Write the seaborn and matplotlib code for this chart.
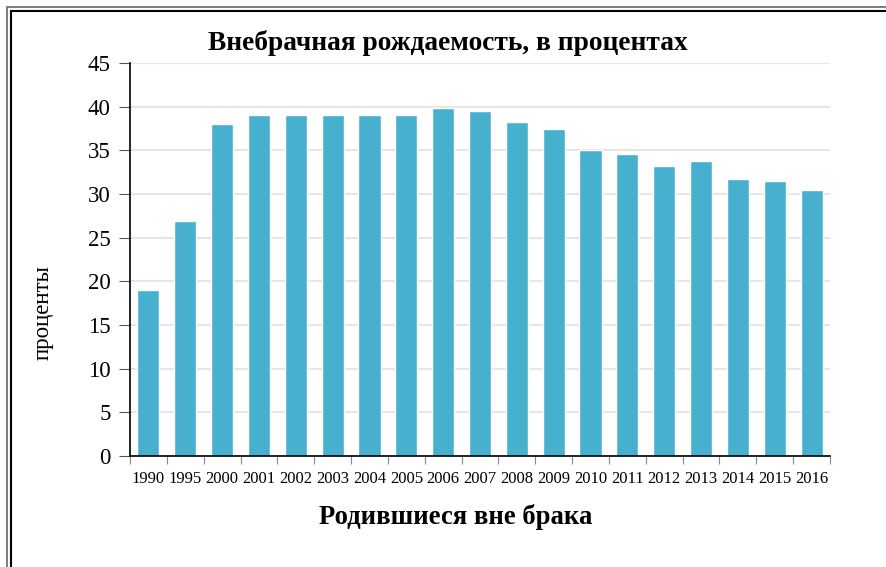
import numpy as np
import pandas as pd
import seaborn as sns
import matplotlib.pyplot as plt
from matplotlib.patches import Rectangle

years = ["1990", "1995", "2000", "2001", "2002", "2003", "2004", "2005", "2006",
         "2007", "2008", "2009", "2010", "2011", "2012", "2013", "2014", "2015", "2016"]
percents = [19.0, 26.95, 38.0, 39.1, 39.1, 39.1, 39.1, 39.1, 39.8,
            39.5, 38.3, 37.4, 35.0, 34.6, 33.2, 33.8, 31.7, 31.5, 30.5]

bar_color = "#47b0cf"

sns.set_style("white")
plt.rcParams["font.family"] = ["Liberation Serif", "DejaVu Serif"]
plt.rcParams["text.color"] = "black"
plt.rcParams["xtick.color"] = "black"
plt.rcParams["ytick.color"] = "black"

df = pd.DataFrame({"year": years, "pct": percents})

fig = plt.figure(figsize=(8.86, 5.67), dpi=100)
ax = fig.add_axes([130 / 886, 1 - 456 / 567, 700 / 886, 393 / 567])

sns.barplot(data=df, x="year", y="pct", color=bar_color, saturation=1,
            width=0.6, ax=ax, zorder=3)

ax.set_ylim(0, 45)
ax.set_xlim(-0.5, len(years) - 0.5)
ax.set_yticks(np.arange(0, 46, 5))
ax.yaxis.grid(True, color="#e6e6e6", linewidth=1.5, zorder=0)
ax.xaxis.grid(False)

for s in ["top", "right"]:
    ax.spines[s].set_visible(False)
for s in ["left", "bottom"]:
    ax.spines[s].set_color("black")
    ax.spines[s].set_linewidth(1.2)
    ax.spines[s].set_zorder(4)

ax.tick_params(axis="y", labelsize=16.5, length=8, width=0.8, color="#555555",
               labelcolor="black", direction="out", left=True, pad=6)
ax.tick_params(axis="x", which="major", labelsize=12, length=0, pad=11,
               labelcolor="black")
ax.set_xticks(np.arange(-0.5, len(years), 1), minor=True)
ax.tick_params(axis="x", which="minor", length=6, width=0.8, color="#888888",
               direction="out", bottom=True)

ax.set_xlabel("")
ax.set_ylabel("")

fig.text(448 / 886, 1 - 43 / 567, "Внебрачная рождаемость, в процентах",
         ha="center", va="center", fontsize=19.7, fontweight="bold", color="black")
fig.text(456 / 886, 1 - 517 / 567, "Родившиеся вне брака",
         ha="center", va="center", fontsize=19.2, fontweight="bold", color="black")
fig.text(43 / 886, 1 - 313 / 567, "проценты", rotation=90,
         ha="center", va="center", fontsize=16.5, color="black")

# double frame, cut off at right and bottom
fig.patches.append(Rectangle((6.5 / 886, -0.1), 1.2, 1 - 6.5 / 567 + 0.1,
                             transform=fig.transFigure, fill=False,
                             edgecolor="#666666", linewidth=1.2))
fig.patches.append(Rectangle((10.5 / 886, -0.1), 1.2, 1 - 10.5 / 567 + 0.1,
                             transform=fig.transFigure, fill=False,
                             edgecolor="black", linewidth=1.5))

fig.savefig("out.png", dpi=100)
